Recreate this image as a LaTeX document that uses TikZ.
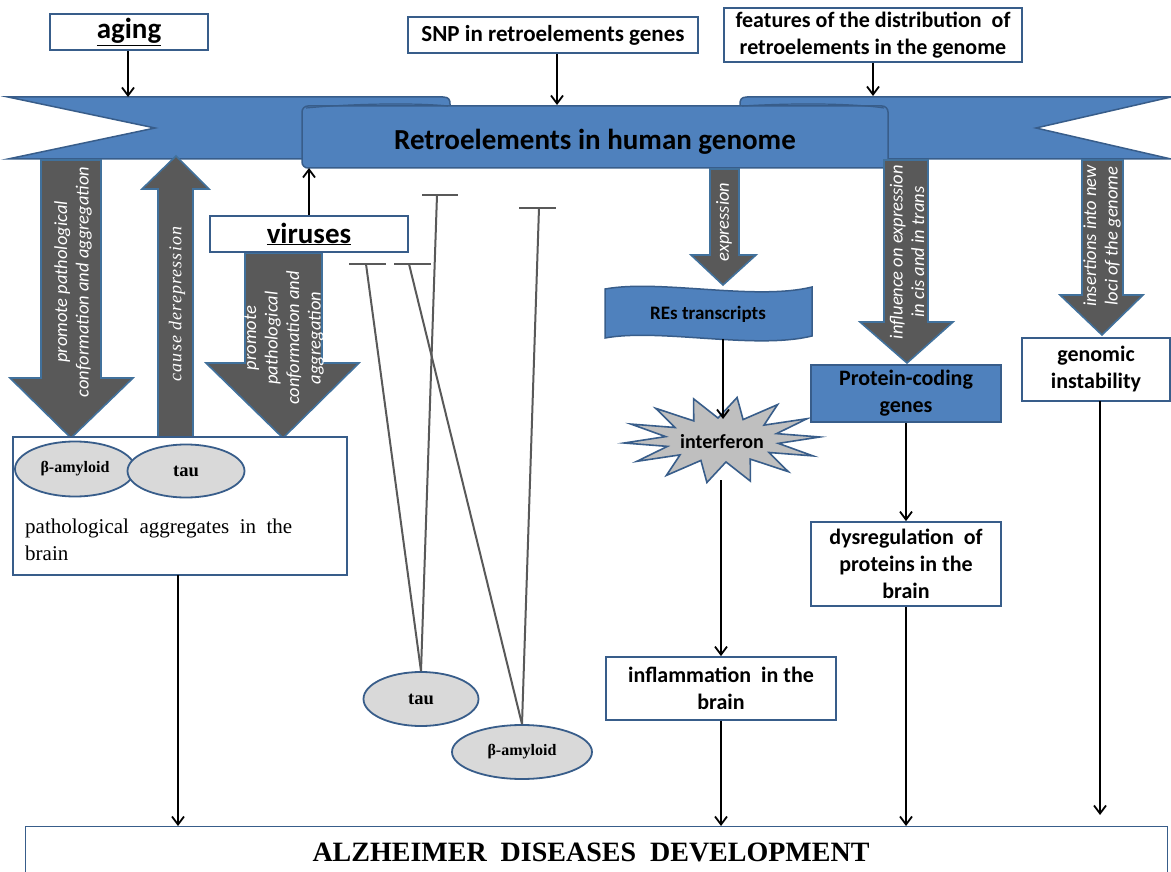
\documentclass[tikz,border=0pt]{standalone}
\usepackage{fontspec}
\setmainfont{Carlito}
\newfontfamily\tnr{Liberation Serif}
\newfontfamily\tnrsp[LetterSpace=6]{Liberation Serif}
\usetikzlibrary{arrows.meta,shapes.geometric}
\definecolor{bfill}{HTML}{4F81BD}
\definecolor{bdraw}{HTML}{385D8A}
\definecolor{afill}{HTML}{595959}
\definecolor{adraw}{HTML}{41719C}
\definecolor{efill}{HTML}{D9D9D9}
\definecolor{sfill}{HTML}{BFBFBF}
\definecolor{inhc}{HTML}{595959}
\begin{document}
\begin{tikzpicture}[x=1pt,y=-1pt,
  wbox/.style={draw=bdraw, line width=1.8pt, fill=white, inner sep=0pt, align=center,
    font=\bfseries\fontsize{22}{27}\selectfont},
  bbox/.style={wbox, fill=bfill},
  ell/.style={ellipse, draw=bdraw, line width=1.8pt, fill=efill, inner sep=0pt,
    font=\tnr\bfseries\fontsize{16}{19}\selectfont},
  tauell/.style={ell, font=\tnr\bfseries\fontsize{18.5}{21}\selectfont},
  blk/.style={fill=afill, draw=adraw, line width=1.6pt, line join=miter},
  atext/.style={text=white, align=center, inner sep=0pt, font=\itshape\fontsize{18.5}{21.5}\selectfont},
  thinarr/.style={line width=1.8pt, -{Straight Barb[length=8pt,width=12pt]}},
  inh/.style={draw=inhc, line width=2pt},
  banner/.style={fill=bfill, draw=bdraw, line width=1.5pt, line join=miter}]
\useasboundingbox (0,0) rectangle (1171,872);

% ---------- banner ----------
\draw[banner] (8,97) -- (443,97) .. controls (449,97) and (450,100) .. (450,104)
   -- (450,159) -- (8,159) -- (155,128) -- cycle;
\draw[banner] (1171,97) -- (747,97) .. controls (741,97) and (740,100) .. (740,104)
   -- (740,159) -- (1171,159) -- (1036,128) -- cycle;
\draw[banner, rounded corners=6pt] (302,106) -- (888,106) -- (888,168) -- (302,168) -- cycle;
\draw[bdraw, line width=1.2pt] (306,108) .. controls (360,103) and (420,103) .. (448,106);
\draw[bdraw, line width=1.2pt] (742,106) .. controls (790,103) and (850,103) .. (884,108);
\node[font=\bfseries\fontsize{29}{34}\selectfont] (retro) at (595,142) {Retroelements in human genome};

% ---------- top boxes ----------
\node[wbox, minimum width=158pt, minimum height=36pt, font=\bfseries\fontsize{29}{33}\selectfont] (aging) at (129,32) {\underline{aging}};
\node[wbox, minimum width=290pt, minimum height=36pt, font=\bfseries\fontsize{23}{27}\selectfont] (snp) at (553,35) {SNP in retroelements genes};
\node[wbox, minimum width=298pt, minimum height=54pt] (feat) at (873,35) {features of the distribution\ \ of\\retroelements in the genome};

\coordinate (ca) at (128,97);
\coordinate (cs) at (557,105);
\coordinate (cf) at (873,96);
\draw[thinarr] (aging.south -| ca) -- (ca);
\draw[thinarr] (snp.south -| cs) -- (cs);
\draw[thinarr] (feat.south -| cf) -- (cf);

% ---------- block arrows ----------
\draw[blk] (41,160) -- (101,160) -- (101,378) -- (133,378) -- (71,438) -- (10,378) -- (41,378) -- cycle;
\draw[blk] (158,437) -- (193,437) -- (193,189) -- (209,189) -- (176,156) -- (142,189) -- (158,189) -- cycle;
\draw[blk] (245,253) -- (322,253) -- (322,363) -- (359,363) -- (283,438) -- (206,363) -- (245,363) -- cycle;
\draw[blk] (710,169) -- (739,169) -- (739,255) -- (756,255) -- (723,285) -- (691,255) -- (710,255) -- cycle;
\draw[blk] (884,160) -- (928,160) -- (928,322) -- (953,322) -- (907,363) -- (860,322) -- (884,322) -- cycle;
\draw[blk] (1082,160) -- (1123,160) -- (1123,295) -- (1143,295) -- (1102,335) -- (1060,295) -- (1082,295) -- cycle;

\node[atext, rotate=90] at (73,282) {promote pathological\\conformation and aggregation};
\node[atext, rotate=90, font=\tnrsp\itshape\fontsize{18}{22}\selectfont] at (177,304) {cause derepression};
\node[atext, rotate=90] at (284,338) {promote\\pathological\\conformation and\\aggregation};
\node[atext, rotate=90] at (724,222) {expression};
\node[atext, rotate=90] at (907,252) {influence on expression\\in cis and in trans};
\node[atext, rotate=90] at (1102,236) {insertions into new\\loci of the genome};

% ---------- viruses ----------
\node[wbox, minimum width=198pt, minimum height=36pt, font=\bfseries\fontsize{29}{33}\selectfont] (viruses) at (309,234) {\underline{viruses}};
\coordinate (cv) at (309,168);
\draw[thinarr] (viruses.north) -- (cv);

% ---------- pathological aggregates ----------
\node[draw=bdraw, line width=1.3pt, fill=white, minimum width=334pt, minimum height=138pt, inner sep=0pt] (agg) at (180,506) {};
\node[ell, minimum width=120pt, minimum height=55pt] (beta1) at (75,469) {β-amyloid};
\node[tauell, minimum width=117pt, minimum height=53pt] (tau1) at (186,471) {tau};
\node[anchor=north west, align=left, inner sep=0pt, font=\tnr\fontsize{21}{27}\selectfont] (aggtxt) at (25,519) {pathological\ \ aggregates\ \ in\ \ the\\brain};

% ---------- lower ellipses & inhibition lines ----------
\node[tauell, minimum width=115pt, minimum height=54pt] (tau2) at (421,699) {tau};
\node[ell, minimum width=140pt, minimum height=54pt] (beta2) at (522,752) {β-amyloid};
\coordinate (t1) at (437,195);
\coordinate (t2) at (539,208);
\coordinate (t3) at (366,264);
\coordinate (t4) at (409,264);
\draw[inh] (tau2.north) -- (t1);
\draw[inh] (beta2.north) -- (t2);
\draw[inh] (tau2.north) -- (t3);
\draw[inh] (beta2.north) -- (t4);
\draw[inh] ([xshift=-15pt]t1) -- ([xshift=21pt]t1);
\draw[inh] ([xshift=-20pt]t2) -- ([xshift=17pt]t2);
\draw[inh] ([xshift=-17pt]t3) -- ([xshift=20pt]t3);
\draw[inh] ([xshift=-15pt]t4) -- ([xshift=22pt]t4);

% ---------- REs transcripts ----------
\draw[banner] (605,289) .. controls (660,279) and (755,301) .. (812,287)
   -- (812,336) .. controls (755,350) and (660,328) .. (605,338) -- cycle;
\node[font=\bfseries\fontsize{19}{23}\selectfont] (res) at (708,314) {REs transcripts};

% ---------- interferon ----------
\draw[fill=sfill, draw=bdraw, line width=1.6pt, line join=miter]
  plot[samples at={0,...,27}, variable=\k]
  ({722+ifthenelse(iseven(\k),98,57)*cos(\k*360/28+4)}, {440-ifthenelse(iseven(\k),43,22)*sin(\k*360/28+4)}) -- cycle;
\node[font=\bfseries\fontsize{20}{24}\selectfont] (intf) at (722,442) {interferon};
\coordinate (intop) at (723,419);
\coordinate (inbot) at (721,480);
\draw[thinarr] (723,339) -- (intop);

% ---------- right column boxes ----------
\node[wbox, minimum width=230pt, minimum height=63pt] (infl) at (721,688.5) {inflammation\ \ in the\\brain};
\draw[thinarr] (inbot) -- (infl.north);
\node[bbox, minimum width=190pt, minimum height=57pt] (pcg) at (906,393.5) {Protein-coding\\genes};
\node[wbox, minimum width=190pt, minimum height=84pt] (dysr) at (906,564) {dysregulation\ \ of\\proteins in the\\brain};
\draw[thinarr] (pcg.south) -- (dysr.north);
\node[wbox, minimum width=148pt, minimum height=63pt] (gen) at (1096,369.5) {genomic\\instability};

% ---------- bottom ----------
\node[draw=bdraw, line width=1.3pt, fill=white, minimum width=1142pt, minimum height=60pt, inner sep=0pt, anchor=north west] (alz) at (25,826) {};
\node[font=\tnr\bfseries\fontsize{28}{32}\selectfont] (alztxt) at (591,852) {ALZHEIMER\ \ DISEASES\ \ DEVELOPMENT};
\coordinate (aggout) at (178,575);
\coordinate (alzA) at (178,826);
\coordinate (alzB) at (721,826);
\coordinate (alzC) at (906,826);
\coordinate (genout) at (1100,401);
\coordinate (alzD) at (1100,815);
\draw[thinarr] (aggout) -- (alzA);
\draw[thinarr] (infl.south) -- (alzB);
\draw[thinarr] (dysr.south) -- (alzC);
\draw[thinarr] (genout) -- (alzD);
\end{tikzpicture}
\end{document}
